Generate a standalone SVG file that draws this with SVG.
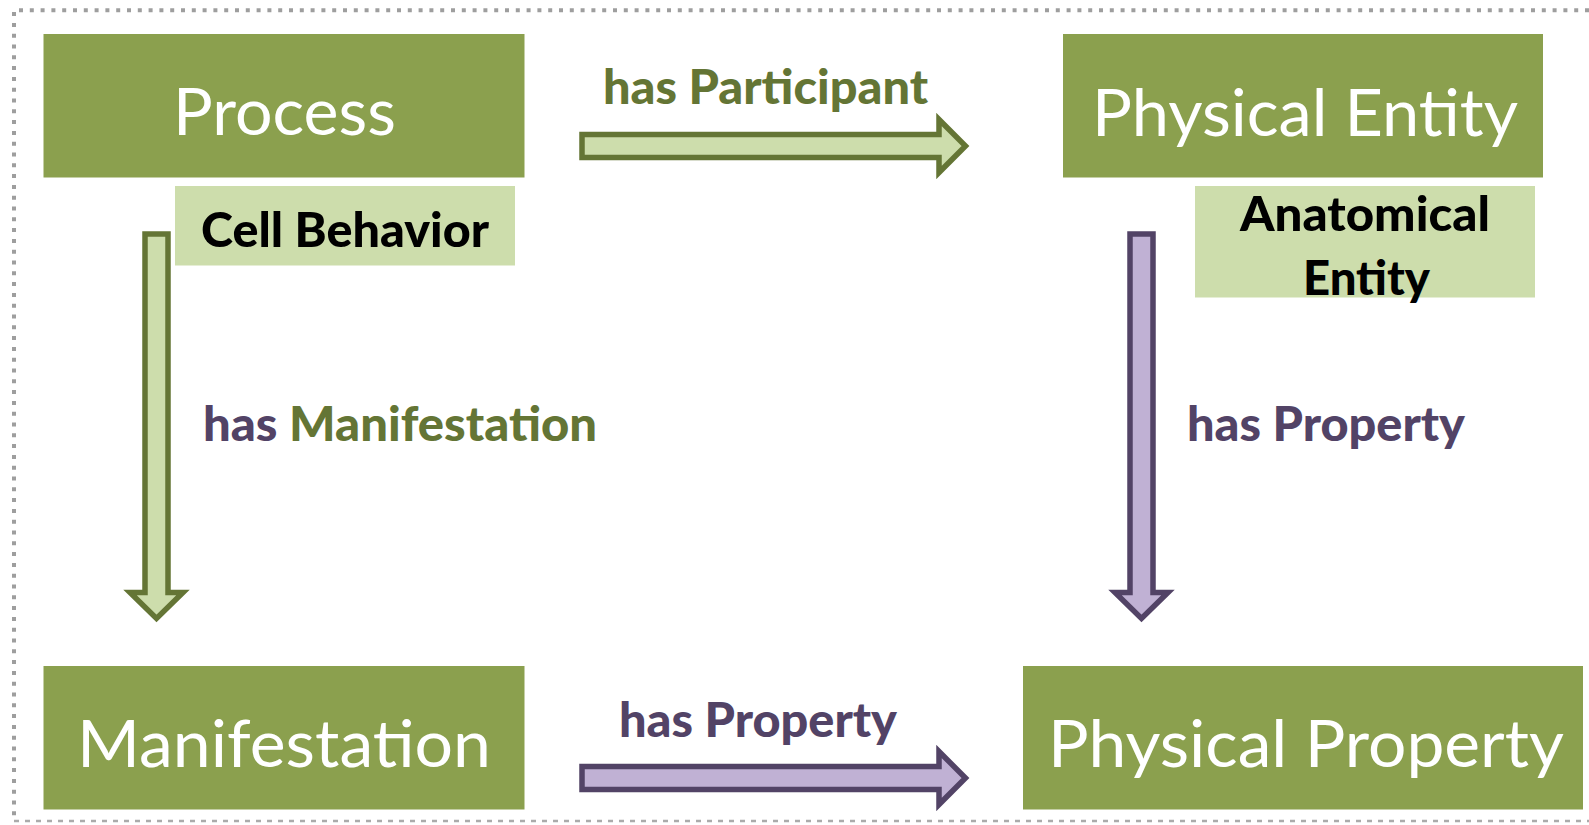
<svg xmlns="http://www.w3.org/2000/svg" width="1589" height="825" viewBox="0 0 1589 825">
  <style>
    .frame { fill: none; stroke: #9E9E9E; stroke-width: 4; stroke-dasharray: 4 6.8; }
    .frame-bottom { fill: none; stroke: #ABABAB; stroke-width: 2.4; stroke-dasharray: 5 6; }
    .box { fill: #8BA04E; }
    .tag { fill: #CDDDAC; }
    .title { font-family: Lato, "Open Sans", sans-serif; font-size: 66px; fill: #FFFFFF; text-anchor: middle; }
    .tagtext { font-family: Lato, "Open Sans", sans-serif; font-weight: 900; font-size: 48px; fill: #000000; text-anchor: middle; }
    .label { font-family: Lato, "Open Sans", sans-serif; font-weight: 900; font-size: 47px; }
    .green-text { fill: #647535; }
    .purple-text { fill: #524366; }
    .arrow-green { fill: #CDDDAC; stroke: #647535; stroke-width: 5.5; stroke-linejoin: miter; }
    .arrow-purple { fill: #C0B1D4; stroke: #524366; stroke-width: 5.5; stroke-linejoin: miter; }
  </style>

  <!-- dotted outer frame -->
  <path class="frame" d="M1589,10.3 H14 V821"/>
  <path class="frame-bottom" d="M14,821 H1589"/>

  <!-- block arrows and their relation labels -->
  <g id="connectors">
    <path id="arrow-has-participant" class="arrow-green" d="M582,134.5 H939 V119.5 L965.5,146 L939,172.5 V157.5 H582 Z"/>
    <path id="arrow-has-manifestation" class="arrow-green" d="M145,234 H168 V592.5 H183 L156.5,618.5 L130,592.5 H145 Z"/>
    <path id="arrow-has-property-right" class="arrow-purple" d="M1130,234 H1153 V592.5 H1168 L1141.5,618.5 L1115,592.5 H1130 Z"/>
    <path id="arrow-has-property-bottom" class="arrow-purple" d="M582,766.5 H939 V751.5 L965.5,778 L939,804.5 V789.5 H582 Z"/>

    <text class="label green-text" x="765.5" y="104" text-anchor="middle" textLength="325" lengthAdjust="spacingAndGlyphs">has Participant</text>
    <text class="label" x="203" y="441" textLength="394" lengthAdjust="spacingAndGlyphs"><tspan class="purple-text">has </tspan><tspan class="green-text">Manifestation</tspan></text>
    <text class="label purple-text" x="1187" y="441" textLength="278" lengthAdjust="spacingAndGlyphs">has Property</text>
    <text class="label purple-text" x="619" y="737" textLength="278" lengthAdjust="spacingAndGlyphs">has Property</text>
  </g>

  <g id="node-process">
    <rect class="box" x="43.5" y="34" width="481" height="143.5"/>
    <text class="title" x="284.5" y="135" textLength="223" lengthAdjust="spacingAndGlyphs">Process</text>
  </g>

  <g id="node-cell-behavior">
    <rect class="tag" x="175" y="186" width="340" height="79.5"/>
    <text class="tagtext" x="345" y="247" textLength="288" lengthAdjust="spacingAndGlyphs">Cell Behavior</text>
  </g>

  <g id="node-physical-entity">
    <rect class="box" x="1063" y="34" width="480" height="143.5"/>
    <text class="title" x="1305" y="136" textLength="426" lengthAdjust="spacingAndGlyphs">Physical Entity</text>
  </g>

  <g id="node-anatomical-entity">
    <rect class="tag" x="1195" y="186" width="340" height="111.5"/>
    <text class="tagtext" x="1365" y="231" textLength="250" lengthAdjust="spacingAndGlyphs">Anatomical</text>
    <text class="tagtext" x="1366.5" y="295" textLength="127" lengthAdjust="spacingAndGlyphs">Entity</text>
  </g>

  <g id="node-manifestation">
    <rect class="box" x="43.5" y="666" width="481" height="143.5"/>
    <text class="title" x="284" y="767" textLength="414" lengthAdjust="spacingAndGlyphs">Manifestation</text>
  </g>

  <g id="node-physical-property">
    <rect class="box" x="1023" y="666" width="560" height="143.5"/>
    <text class="title" x="1306" y="767" textLength="516" lengthAdjust="spacingAndGlyphs">Physical Property</text>
  </g>
</svg>
